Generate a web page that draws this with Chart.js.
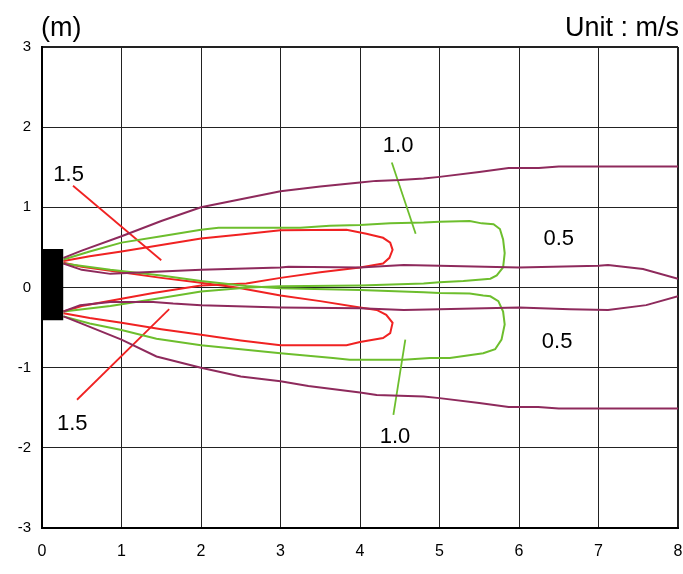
<!DOCTYPE html>
<html>
<head>
<meta charset="utf-8">
<script src="https://cdn.jsdelivr.net/npm/chart.js@4/dist/chart.umd.min.js"></script>
<style>
html,body{margin:0;padding:0;background:#fff;}
canvas{display:block;}
</style>
</head>
<body>
<canvas id="c" width="683" height="574"></canvas>
<script>
// ---- Data (metres) ----
const xTicks = [0, 1, 2, 3, 4, 5, 6, 7, 8];
const yTicks = [-3, -2, -1, 0, 1, 2, 3];

// source outlet block: x from 0 to 0.27, y from -0.41 to 0.48
const sourceX = [0, 0.27];
const sourceTop = 0.48;
const sourceBottom = -0.41;

// 0.5 m/s contour (purple)
const purpleOuterTop = [[0.27,0.37],[0.5,0.46],[1.0,0.64],[1.5,0.83],[2.0,1.0],[2.5,1.1],[3.0,1.2],[3.5,1.26],[4.0,1.31],[4.2,1.33],[4.5,1.34],[4.8,1.36],[5.0,1.38],[5.5,1.44],[5.87,1.49],[6.25,1.49],[6.5,1.51],[8.0,1.51]];
const purpleInnerTop = [[0.27,0.3],[0.5,0.22],[0.86,0.17],[1.5,0.2],[2.0,0.22],[3.0,0.25],[3.1,0.26],[4.0,0.25],[4.55,0.28],[5.0,0.27],[6.0,0.25],[7.0,0.27],[7.12,0.28],[7.56,0.23],[8.0,0.11]];
const purpleInnerBottom = [[0.27,-0.3],[0.48,-0.22],[0.86,-0.18],[1.4,-0.18],[1.65,-0.2],[2.0,-0.22],[3.0,-0.25],[4.0,-0.26],[4.55,-0.28],[5.0,-0.27],[6.0,-0.25],[6.64,-0.27],[7.12,-0.28],[7.6,-0.22],[8.0,-0.11]];
const purpleOuterBottom = [[0.27,-0.36],[0.5,-0.45],[1.0,-0.65],[1.44,-0.86],[2.0,-1.0],[2.5,-1.11],[3.0,-1.17],[3.35,-1.23],[4.0,-1.31],[4.21,-1.34],[4.8,-1.36],[5.0,-1.38],[5.5,-1.44],[5.87,-1.49],[6.24,-1.49],[6.5,-1.51],[8.0,-1.51]];

// 1.0 m/s contour (green)
const greenUpper = [[0.27,0.35],[0.6,0.45],[1.0,0.56],[1.5,0.64],[2.0,0.72],[2.22,0.745],[3.0,0.745],[3.25,0.745],[3.62,0.77],[4.0,0.78],[4.38,0.8],[4.8,0.81],[5.0,0.82],[5.38,0.83],[5.53,0.8],[5.68,0.79],[5.76,0.73],[5.8,0.6],[5.82,0.43],[5.8,0.25],[5.72,0.15],[5.64,0.11],[5.53,0.1],[5.3,0.08],[5.0,0.065],[4.8,0.05],[4.0,0.025],[3.0,0.015],[2.6,0.0],[2.0,-0.05],[1.5,-0.13],[0.86,-0.23],[0.27,-0.3]];
const greenLower = [[0.27,-0.36],[0.6,-0.45],[1.0,-0.53],[1.44,-0.64],[2.0,-0.72],[3.0,-0.82],[3.66,-0.88],[3.87,-0.9],[4.55,-0.9],[4.88,-0.88],[5.13,-0.88],[5.55,-0.82],[5.7,-0.77],[5.78,-0.65],[5.82,-0.46],[5.8,-0.3],[5.74,-0.17],[5.64,-0.11],[5.55,-0.1],[5.38,-0.075],[5.0,-0.07],[4.8,-0.06],[4.0,-0.03],[3.0,-0.01],[2.57,0.02],[2.0,0.08],[1.5,0.15],[0.86,0.22],[0.27,0.3]];

// 1.5 m/s contour (red)
const redUpper = [[0.27,0.33],[0.6,0.39],[1.0,0.45],[1.5,0.53],[2.0,0.61],[2.5,0.66],[3.0,0.715],[3.83,0.72],[4.08,0.67],[4.29,0.62],[4.38,0.56],[4.41,0.47],[4.37,0.37],[4.29,0.3],[4.0,0.25],[3.5,0.19],[3.0,0.12],[2.57,0.05],[2.0,0.025],[1.4,-0.07],[1.0,-0.14],[0.5,-0.23],[0.27,-0.3]];
const redLower = [[0.27,-0.32],[0.6,-0.38],[1.0,-0.44],[1.5,-0.52],[2.0,-0.59],[2.5,-0.66],[3.0,-0.72],[3.83,-0.72],[4.0,-0.68],[4.29,-0.63],[4.38,-0.57],[4.41,-0.44],[4.33,-0.34],[4.21,-0.28],[4.0,-0.25],[3.5,-0.17],[3.0,-0.1],[2.45,0.0],[2.0,0.06],[1.5,0.12],[1.0,0.19],[0.5,0.26],[0.27,0.31]];

// leader lines for the value labels
const leaderRedUpper = [[0.39,1.27],[1.5,0.34]];
const leaderRedLower = [[0.44,-1.4],[1.6,-0.27]];
const leaderGreenUpper = [[4.4,1.56],[4.7,0.67]];
const leaderGreenLower = [[4.57,-0.65],[4.42,-1.59]];

// value labels
const labelTexts = ['1.5', '1.5', '1.0', '1.0', '0.5', '0.5'];
const labelX = [0.335, 0.38, 4.48, 4.44, 6.5, 6.48];
const labelY = [1.40, -1.70, 1.76, -1.86, 0.61, -0.68];

const yUnit = '(m)';
const unitText = 'Unit : m/s';

// ---- Styles ----
const PURPLE = '#8e2a5c';
const GREEN = '#6dbe2d';
const RED = '#f02222';
const FONT = "'Liberation Sans', Arial, sans-serif";

const pts = a => a.map(p => ({x: p[0], y: p[1]}));
function line(data, color, w) {
  return { data: pts(data), borderColor: color, borderWidth: w, showLine: true,
           pointRadius: 0, fill: false, tension: 0 };
}

const datasets = [
  { data: sourceX.map(x => ({x: x, y: sourceTop})), showLine: true, pointRadius: 0,
    borderWidth: 0, borderColor: '#000', backgroundColor: '#000', fill: {value: sourceBottom} },
  line(purpleOuterTop, PURPLE, 2),
  line(purpleInnerTop, PURPLE, 2),
  line(purpleInnerBottom, PURPLE, 2),
  line(purpleOuterBottom, PURPLE, 2),
  line(greenUpper, GREEN, 2),
  line(greenLower, GREEN, 2),
  line(redUpper, RED, 2),
  line(redLower, RED, 2),
  line(leaderRedUpper, RED, 1.8),
  line(leaderRedLower, RED, 1.8),
  line(leaderGreenUpper, GREEN, 1.8),
  line(leaderGreenLower, GREEN, 1.8)
];

const textPlugin = {
  id: 'texts',
  afterDatasetsDraw(chart) {
    const ctx = chart.ctx;
    const xs = chart.scales.x, ys = chart.scales.y;
    ctx.save();
    ctx.fillStyle = '#000';
    ctx.font = '22px ' + FONT;
    ctx.textAlign = 'center';
    ctx.textBaseline = 'middle';
    labelTexts.forEach((t, i) => {
      ctx.fillText(t, xs.getPixelForValue(labelX[i]), ys.getPixelForValue(labelY[i]));
    });
    ctx.font = '27px ' + FONT;
    ctx.textBaseline = 'alphabetic';
    ctx.textAlign = 'left';
    ctx.fillText(yUnit, chart.chartArea.left - 1, 36);
    ctx.textAlign = 'right';
    ctx.fillText(unitText, chart.chartArea.right + 1, 36);
    ctx.restore();
  }
};

const gridW = (edgeVal) => (c) => (c.tick && c.tick.value === edgeVal ? 2 : 1);

new Chart(document.getElementById('c'), {
  type: 'scatter',
  data: { datasets: datasets },
  plugins: [textPlugin],
  options: {
    responsive: false,
    animation: false,
    devicePixelRatio: 1,
    layout: { padding: { top: 47, right: 5, left: 0, bottom: 0 } },
    plugins: { legend: { display: false }, tooltip: { enabled: false } },
    scales: {
      x: {
        type: 'linear', min: 0, max: 8,
        afterBuildTicks: (s) => { s.ticks = xTicks.map(v => ({value: v})); },
        afterFit: (s) => { s.height = 46; s.paddingLeft = 0; s.paddingRight = 0; },
        ticks: { color: '#000', font: { size: 16, family: FONT }, padding: 14, maxRotation: 0 },
        grid: { color: '#222', lineWidth: gridW(8), drawTicks: false },
        border: { display: true, color: '#000', width: 2 }
      },
      y: {
        type: 'linear', min: -3, max: 3,
        afterBuildTicks: (s) => { s.ticks = yTicks.map(v => ({value: v})); },
        afterFit: (s) => { s.width = 42; s.paddingTop = 0; s.paddingBottom = 0; },
        ticks: { color: '#000', font: { size: 15, family: FONT }, padding: 11 },
        grid: { color: '#222', lineWidth: gridW(3), drawTicks: false },
        border: { display: true, color: '#000', width: 2 }
      }
    }
  }
});
</script>
</body>
</html>
